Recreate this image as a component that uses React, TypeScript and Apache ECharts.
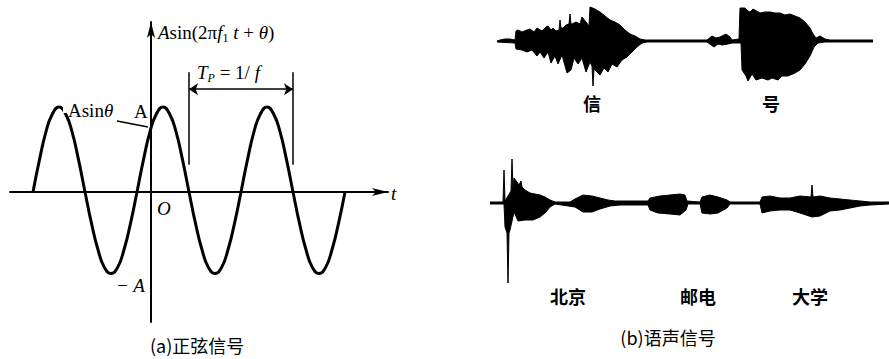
import React, { useEffect, useRef } from "react";
import * as echarts from "echarts";

// (a) sinusoid: time samples (px-like units, origin at O) and values in units of A
const sineT = [-118, -111.5, -105, -98.5, -92, -85.5, -79, -72.5, -66, -59.5, -53, -46.5, -40, -33.5, -27, -20.5, -14, -7.5, -1, 5.5, 12, 18.5, 25, 31.5, 38, 44.5, 51, 57.5, 64, 70.5, 77, 83.5, 90, 96.5, 103, 109.5, 116, 122.5, 129, 135.5, 142, 148.5, 155, 161.5, 168, 174.5, 181, 187.5, 194];
const sineV = [0, 0.38, 0.71, 0.92, 1, 0.92, 0.71, 0.38, 0, -0.37, -0.68, -0.89, -0.96, -0.89, -0.68, -0.37, 0, 0.38, 0.71, 0.92, 1, 0.92, 0.71, 0.38, 0, -0.37, -0.68, -0.89, -0.96, -0.89, -0.68, -0.37, 0, 0.38, 0.71, 0.92, 1, 0.92, 0.71, 0.38, 0, -0.37, -0.68, -0.89, -0.96, -0.89, -0.68, -0.37, 0];
const periodStartT = 38;
const periodEndT = 142;
const periodLevel = 1.21;
const periodTop = 1.41;
const periodBottom = 0.32;

// (b) speech "信号": envelope [time, amplitude]
const xinhaoUpper = [[0, 0], [3, 1], [8, 2], [13, 2], [18, 1], [19, 10], [21, 11], [25, 9], [30, 11], [33, 12], [37, 9], [40, 13], [45, 10], [49, 14], [51, 15], [54, 11], [56, 13], [59, 10], [62, 11], [63, 21], [64, 13], [66, 13], [69, 16], [72, 17], [73, 27], [74, 17], [75, 17], [79, 19], [83, 17], [85, 24], [89, 19], [92, 15], [93, 34], [98, 32], [101, 30], [103, 29], [108, 25], [113, 21], [118, 19], [123, 16], [128, 11], [133, 7], [138, 5], [143, 2], [148, 1], [210, 1], [215, 5], [219, 3], [223, 4], [229, 7], [233, 4], [235, 1], [242, 2], [243, 33], [248, 33], [251, 30], [253, 29], [256, 32], [263, 28], [268, 29], [273, 29], [278, 28], [283, 28], [288, 26], [293, 27], [298, 25], [303, 23], [308, 19], [313, 13], [316, 7], [319, 3], [323, 5], [328, 2], [333, 1], [376, 1]];
const xinhaoLower = [[0, -1], [18, -2], [19, -8], [25, -9], [30, -11], [35, -9], [40, -15], [43, -11], [47, -17], [51, -11], [54, -22], [58, -15], [61, -23], [65, -14], [70, -32], [74, -29], [77, -17], [81, -23], [85, -17], [89, -31], [93, -21], [95, -25], [96, -45], [97, -28], [103, -34], [107, -27], [111, -31], [115, -23], [120, -26], [125, -19], [130, -16], [135, -11], [140, -6], [145, -2], [150, -1], [210, -1], [217, -6], [221, -3], [225, -4], [231, -3], [235, -2], [244, -2], [245, -29], [249, -35], [251, -40], [255, -33], [259, -39], [265, -37], [271, -39], [275, -37], [281, -39], [285, -35], [291, -35], [298, -32], [303, -29], [308, -23], [313, -15], [317, -6], [321, -2], [328, -1], [376, -1]];

// (b) speech "北京邮电大学": envelope [time, amplitude]
const bupUpper = [[0, 1], [13, 1], [14, 33], [15, 2], [21, 12], [22, 44], [23, 14], [24, 25], [27, 21], [29, 18], [31, 22], [32, 16], [35, 13], [40, 10], [50, 8], [55, 6], [60, 3], [65, 1], [80, 1], [85, 4], [93, 8], [102, 7], [110, 5], [118, 3], [125, 2], [158, 2], [160, 5], [165, 6], [170, 7], [180, 8], [190, 9], [195, 8], [197, 2], [210, 1], [212, 6], [220, 8], [228, 6], [237, 3], [240, 1], [270, 1], [272, 6], [280, 7], [290, 5], [300, 5], [310, 7], [321, 6], [322, 18], [323, 6], [330, 7], [340, 5], [350, 4], [360, 3], [370, 2], [380, 1], [399, 1]];
const bupLower = [[0, -1], [14, -1], [15, -24], [17, -30], [18, -80], [19, -30], [20, -27], [24, -9], [28, -18], [35, -17], [43, -17], [50, -14], [55, -10], [60, -4], [65, -1], [85, -4], [93, -9], [102, -9], [110, -6], [120, -3], [130, -2], [158, -2], [160, -7], [168, -10], [180, -11], [190, -12], [196, -7], [198, -1], [210, -1], [212, -10], [220, -11], [228, -10], [237, -5], [240, -1], [270, -1], [272, -10], [280, -8], [290, -7], [300, -7], [310, -10], [322, -14], [330, -13], [340, -8], [350, -7], [360, -5], [370, -3], [380, -2], [399, -1]];

const SERIF = "'Liberation Serif', 'DejaVu Serif', serif";
const CJK = "'Noto Sans CJK SC', sans-serif";

function text(x: number, y: number, t: string, extra: any = {}) {
  return {
    type: "text",
    x,
    y,
    z: 100,
    style: {
      text: t,
      fill: "#000",
      textAlign: "left",
      textVerticalAlign: "middle",
      fontFamily: SERIF,
      fontSize: 18,
      ...extra,
    },
  };
}

const rich = {
  i: { fontStyle: "italic", fontFamily: SERIF, fontSize: 19, fill: "#000", lineHeight: 24 },
  r: { fontFamily: SERIF, fontSize: 19, fill: "#000", lineHeight: 24 },
  s: { fontFamily: SERIF, fontSize: 12, fill: "#000", lineHeight: 13, verticalAlign: "bottom" },
  si: { fontStyle: "italic", fontFamily: SERIF, fontSize: 12, fill: "#000", lineHeight: 13, verticalAlign: "bottom" },
};

function envelopeSeries(data: number[][], idx: number) {
  return {
    type: "line",
    xAxisIndex: idx,
    yAxisIndex: idx,
    data,
    symbol: "none",
    clip: false,
    silent: true,
    lineStyle: { color: "#000", width: 1 },
    areaStyle: { color: "#000", opacity: 1 },
  };
}

export default function App() {
  const ref = useRef<HTMLDivElement>(null);
  useEffect(() => {
    if (!ref.current) return;
    const chart = echarts.init(ref.current, null, { renderer: "svg" });
    const hiddenAxis = (min: number, max: number, gridIndex: number) => ({
      type: "value",
      gridIndex,
      min,
      max,
      show: false,
    });
    const shownAxis = (min: number, max: number) => ({
      type: "value",
      gridIndex: 0,
      min,
      max,
      axisLine: {
        show: true,
        onZero: true,
        symbol: ["none", "arrow"],
        symbolSize: [6, 16],
        lineStyle: { color: "#000", width: 2 },
      },
      axisTick: { show: false },
      axisLabel: { show: false },
      splitLine: { show: false },
    });
    chart.setOption({
      animation: false,
      backgroundColor: "#fff",
      grid: [
        { left: 10, top: 22, width: 378, height: 300 },
        { left: 497, top: 0, width: 376, height: 100 },
        { left: 490, top: 150, width: 399, height: 140 },
      ],
      xAxis: [shownAxis(-141, 237), hiddenAxis(0, 376, 1), hiddenAxis(0, 399, 2)],
      yAxis: [shownAxis(-1.53, 2.0), hiddenAxis(-59, 41, 1), hiddenAxis(-87, 53, 2)],
      series: [
        {
          type: "line",
          xAxisIndex: 0,
          yAxisIndex: 0,
          data: sineT.map((t, i) => [t, sineV[i]]),
          symbol: "none",
          smooth: 0.5,
          silent: true,
          lineStyle: { color: "#000", width: 3 },
          markLine: {
            silent: true,
            animation: false,
            label: { show: false },
            lineStyle: { color: "#000", width: 1.5, type: "solid" },
            symbol: ["none", "none"],
            data: [
              [
                { coord: [periodStartT, periodTop], symbol: "none" },
                { coord: [periodStartT, periodBottom], symbol: "none" },
              ],
              [
                { coord: [periodEndT, periodTop], symbol: "none" },
                { coord: [periodEndT, periodBottom], symbol: "none" },
              ],
              [
                { coord: [periodStartT, periodLevel], symbol: "arrow", symbolSize: 9 },
                { coord: [periodEndT, periodLevel], symbol: "arrow", symbolSize: 9 },
              ],
            ],
          },
        },
        envelopeSeries(xinhaoUpper, 1),
        envelopeSeries(xinhaoLower, 1),
        envelopeSeries(bupUpper, 2),
        envelopeSeries(bupLower, 2),
      ],
      graphic: [
        { type: "rect", z: 99, shape: { x: 63, y: 97, width: 9, height: 16 }, style: { fill: "#fff" } },
        {
          type: "text", x: 158, y: 32, z: 100,
          style: { text: "{i|A}{r|sin(2π}{i|f}{s|1}{i| t}{r| + }{i|θ}{r|)}", rich, textAlign: "left", textVerticalAlign: "middle" },
        },
        {
          type: "text", x: 197, y: 72, z: 100,
          style: { text: "{i|T}{si|P}{r| = 1/ }{i|f}", rich, textAlign: "left", textVerticalAlign: "middle" },
        },
        {
          type: "text", x: 68, y: 110, z: 100,
          style: { text: "{r|Asin}{i|θ}", rich, textAlign: "left", textVerticalAlign: "middle" },
        },
        text(134, 111, "A", { fontSize: 19 }),
        { type: "line", z: 100, shape: { x1: 117, y1: 121, x2: 148, y2: 127 }, style: { stroke: "#000", lineWidth: 1.5 } },
        text(157, 208, "O", { fontSize: 19, fontStyle: "italic" }),
        text(116, 285, "− A", { fontSize: 19, fontStyle: "italic" }),
        text(391, 193, "t", { fontSize: 19, fontStyle: "italic" }),
        text(150, 345, "(a)正弦信号", { fontFamily: CJK, fontSize: 18 }),
        text(592, 103, "信", { fontFamily: CJK, fontSize: 18, fontWeight: "bold", textAlign: "center" }),
        text(771, 103, "号", { fontFamily: CJK, fontSize: 18, fontWeight: "bold", textAlign: "center" }),
        text(568, 296, "北京", { fontFamily: CJK, fontSize: 18, fontWeight: "bold", textAlign: "center" }),
        text(698, 296, "邮电", { fontFamily: CJK, fontSize: 18, fontWeight: "bold", textAlign: "center" }),
        text(810, 296, "大学", { fontFamily: CJK, fontSize: 18, fontWeight: "bold", textAlign: "center" }),
        text(668, 337, "(b)语声信号", { fontFamily: CJK, fontSize: 18, textAlign: "center" }),
      ],
    });
    return () => chart.dispose();
  }, []);
  return (
    <div
      ref={ref}
      style={{ position: "fixed", left: 0, top: 0, width: 889, height: 359, background: "#fff" }}
    />
  );
}
